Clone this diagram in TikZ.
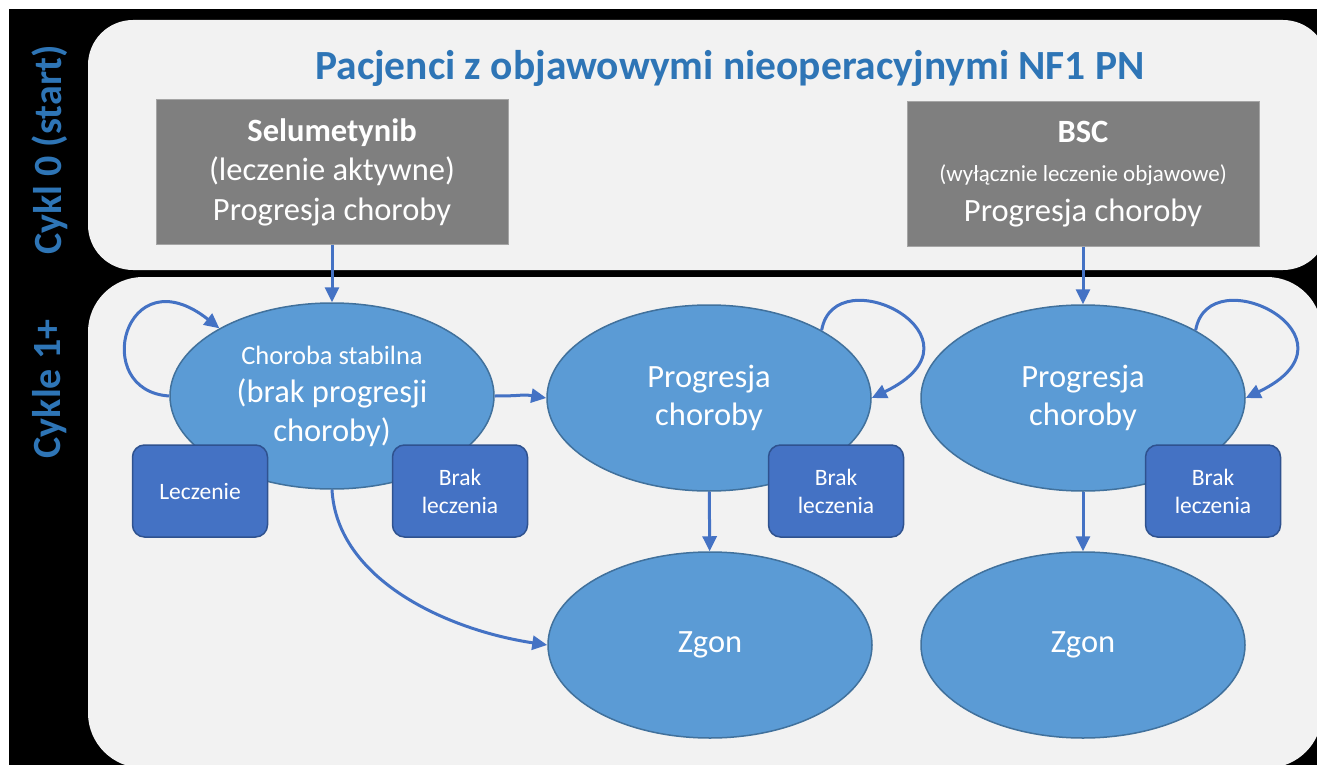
\documentclass[tikz,border=0pt]{standalone}
\usepackage{fontspec}
\setmainfont{Carlito}
\definecolor{titleblue}{RGB}{46,117,182}
\definecolor{panelgray}{RGB}{242,242,242}
\definecolor{armgray}{RGB}{127,127,127}
\definecolor{armline}{RGB}{165,165,165}
\definecolor{statefill}{RGB}{91,155,213}
\definecolor{stateline}{RGB}{65,113,156}
\definecolor{tagfill}{RGB}{68,114,196}
\definecolor{tagline}{RGB}{47,82,143}
\definecolor{arrowblue}{RGB}{68,114,196}
\usetikzlibrary{
    arrows.meta,
    shapes.geometric
}
\tikzstyle{arm} = [
    rectangle,
    draw=armline,
    line width=1pt,
    fill=armgray,
    minimum width=352pt,
    minimum height=144pt,
    inner sep=0pt,
    align=center,
    text=white,
    font=\fontsize{32.5}{39.5}\selectfont
]
\tikzstyle{state} = [
    ellipse,
    draw=stateline,
    line width=1.5pt,
    fill=statefill,
    minimum width=324pt,
    minimum height=186pt,
    inner sep=0pt,
    align=center,
    text=white,
    font=\fontsize{32.5}{38.5}\selectfont
]
\tikzstyle{tag} = [
    rectangle,
    rounded corners=12pt,
    draw=tagline,
    line width=1.5pt,
    fill=tagfill,
    minimum width=135pt,
    minimum height=92pt,
    align=center,
    text=white,
    font=\fontsize{23.5}{28}\selectfont
]
\tikzstyle{stage} = [
    rotate=90,
    text=titleblue,
    font=\fontsize{40}{48}\selectfont\bfseries
]
\tikzstyle{arrow} = [
    -{Triangle[length=15pt,width=14pt]},
    line width=3pt,
    draw=arrowblue
]

\begin{document}
\begin{tikzpicture}[x=1pt, y=-1pt]
    \clip (0,0) rectangle (1317,765);
    \fill[white] (0,0) rectangle (1317,765);
    \fill[black] (9,9) rectangle (1317,765);

    % Panels
    \fill[panelgray, rounded corners=45pt] (88,20) rectangle (1328,270);
    \fill[panelgray, rounded corners=55pt] (88,277) rectangle (1322,768);

    % Cycle labels
    \node[stage] (cykl0) at (50,150) {Cykl 0 (start)};
    \node[stage] (cykl1) at (50,389) {Cykle 1+};

    % Title
    \node[text=titleblue, font=\fontsize{41.5}{48}\selectfont\bfseries] (title) at (730,68) {Pacjenci z objawowymi nieoperacyjnymi NF1 PN};

    % Selumetynib
    \node[arm] (sel) at (332,172) {
        {\bfseries Selumetynib}\\
        (leczenie aktywne)\\
        Progresja choroby
    };

    % BSC
    \node[arm] (bsc) at (1083,174) {
        {\bfseries BSC}\\
        {\fontsize{23}{30}\selectfont (wyłącznie leczenie objawowe)}\\
        Progresja choroby
    };

    % States
    \node[state] (stable) at (332,396) {
        {\fontsize{26.5}{32}\selectfont Choroba stabilna}\\
        (brak progresji\\
        choroby)
    };
    \node[state] (progsel) at (709,398) {Progresja\\choroby};
    \node[state] (progbsc) at (1083,398) {Progresja\\choroby};
    \node[state] (zgonsel) at (710,645) {Zgon};
    \node[state] (zgonbsc) at (1083,645) {Zgon};

    % Treatment tags
    \node[tag] (lecz) at (200,491) {Leczenie};
    \node[tag] (brak1) at (460,491) {Brak\\leczenia};
    \node[tag] (brak2) at (836,491) {Brak\\leczenia};
    \node[tag] (brak3) at (1213,491) {Brak\\leczenia};

    % Arrows
    \draw[arrow] (sel) -- (stable);
    \draw[arrow] (bsc) -- (progbsc);
    \draw[arrow] (progsel) -- (zgonsel);
    \draw[arrow] (progbsc) -- (zgonbsc);
    \draw[arrow] (stable.east) .. controls +(30,0) and +(-25,-4) .. (progsel.west);
    \draw[arrow] (stable.south) .. controls +(5,90) and +(-100,-15) .. (zgonsel.west);

    % Self loops
    \draw[arrow] (stable.west) .. controls +(-80,-5) and +(-95,-75) .. (stable.149);
    \draw[arrow] (progsel.31) .. controls +(13,-75) and +(125,-60) .. (progsel.east);
    \draw[arrow] (progbsc.31) .. controls +(13,-75) and +(125,-60) .. (progbsc.east);
\end{tikzpicture}
\end{document}
